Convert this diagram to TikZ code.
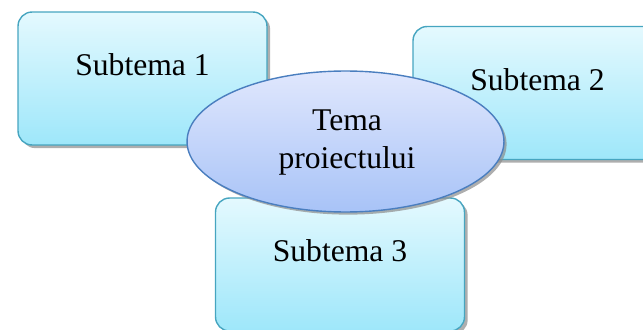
\documentclass[tikz,border=0pt]{standalone}
\usepackage{fontspec}
\setmainfont{Liberation Serif}
\usepackage{tikz}
\usetikzlibrary{shadows}
\usetikzlibrary{positioning}
\usetikzlibrary{shapes}
\usetikzlibrary{calc}
\definecolor{boxtop}{RGB}{228,249,254}
\definecolor{boxbot}{RGB}{158,231,250}
\definecolor{boxline}{RGB}{70,165,192}
\definecolor{elltop}{RGB}{224,231,253}
\definecolor{ellbot}{RGB}{168,195,247}
\definecolor{ellline}{RGB}{74,126,191}
\tikzstyle{subbox}=[rectangle,rounded corners=8pt,draw=boxline,thick,top color=boxtop,bottom color=boxbot,minimum width=4.98cm,minimum height=2.66cm,inner sep=0pt,drop shadow={shadow xshift=1.8pt,shadow yshift=-1.8pt,fill=black!45,opacity=0.7}]
\tikzstyle{topic}=[ellipse,draw=ellline,thick,top color=elltop,bottom color=ellbot,minimum width=6.34cm,minimum height=2.82cm,inner sep=0pt,drop shadow={shadow xshift=1.5pt,shadow yshift=-1.5pt,fill=black!45,opacity=0.7}]
\tikzstyle{label} = [font=\fontsize{18}{21.6}\selectfont,align=center]

\begin{document}
\begin{tikzpicture}

  \def\u{0.02};
  \clip (0,0) rectangle (643*\u, 329*\u);

     % subteme
     \foreach \x/\y/\name/\text in {142.5/250.5/s1/Subtema 1, 537.5/236/s2/Subtema 2, 340/64.5/s3/Subtema 3}
     {
          \node[subbox] (\name) at (\x*\u, \y*\u) {};
          \node[label] (\name t) at ($(\name.center)+(0,13.5*\u)$) {\text};
     }

     % tema
     \node[topic] (tema) at (345.5*\u, 187.5*\u) {};
     \node[label] (temat) at ($(tema.center)+(1.5*\u,-1*\u)$) {Tema\\proiectului};

\end{tikzpicture}
\end{document}
